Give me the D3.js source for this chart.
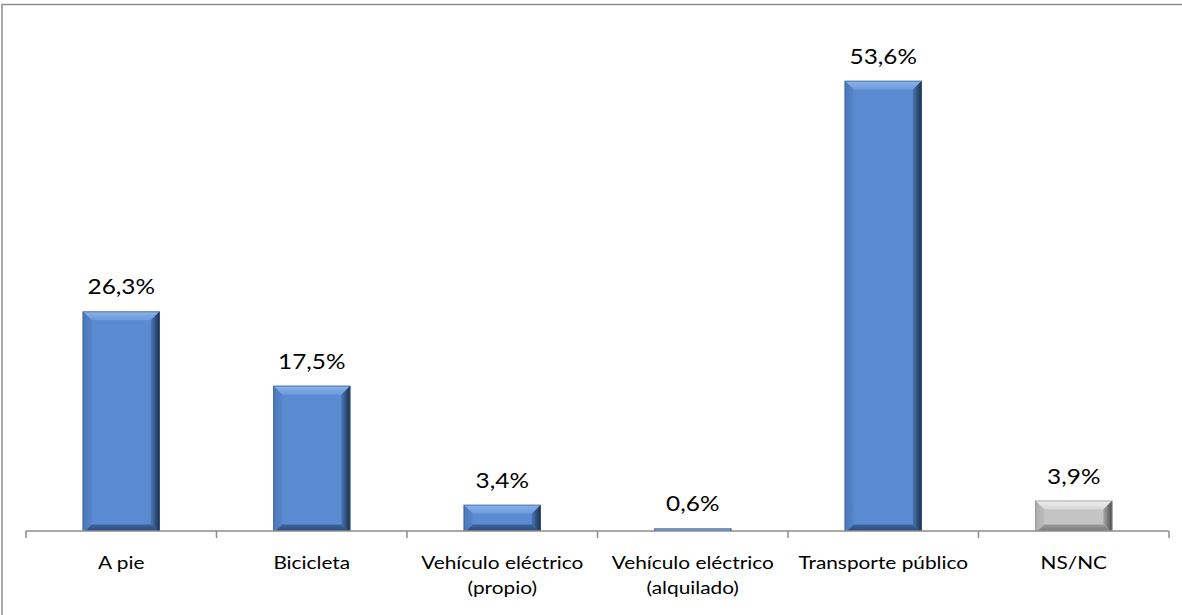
<!DOCTYPE html>
<html><head><meta charset="utf-8">
<script src="https://cdn.jsdelivr.net/npm/d3@7"></script>
<style>html,body{margin:0;padding:0;background:#fff;overflow:hidden}</style>
</head><body><svg id="c" width="1182" height="615"></svg>
<script>
const categories = [["A pie"],["Bicicleta"],["Vehículo eléctrico","(propio)"],["Vehículo eléctrico","(alquilado)"],["Transporte público"],["NS/NC"]];
const values = [26.3, 17.5, 3.4, 0.6, 53.6, 3.9];
const labels = ["26,3%","17,5%","3,4%","0,6%","53,6%","3,9%"];
const kinds = ["blue","blue","blue","blue","blue","gray"];

const svg = d3.select("#c");
const FONT = "Lato, 'Open Sans', sans-serif";
svg.append("rect").attr("x",2).attr("y",4.5).attr("width",1300).attr("height",700)
  .attr("fill","#fff").attr("stroke","#8c8c8c").attr("stroke-width",1.5);

const keys = categories.map((c,i)=>String(i));
const x = d3.scaleBand().domain(keys).range([26,1169]).padding(0);
const y = d3.scaleLinear().domain([0,60]).range([533.5, 533.5-60*8.446]);
const axisY = 531;

const defs = svg.append("defs");
defs.append("clipPath").attr("id","clip").append("rect").attr("x",0).attr("y",0).attr("width",1182).attr("height",axisY);
const pal = {
  blue:{base:"#5a8acf", top:["#8cb4ea","#6a98da"], left:["#4a78b9","#5584c9"], right:["#1a2d47","#4a76b4"], bottom:["#3a629c","#27456f"]},
  gray:{base:"#c4c4c4", top:["#f0f0f0","#d6d6d6"], left:["#adadad","#bcbcbc"], right:["#4a4a4a","#a8a8a8"], bottom:["#9a9a9a","#707070"]}
};
function grad(id,c,x1,y1,x2,y2){
  const g=defs.append("linearGradient").attr("id",id).attr("x1",x1).attr("y1",y1).attr("x2",x2).attr("y2",y2);
  g.append("stop").attr("offset","0%").attr("stop-color",c[0]);
  g.append("stop").attr("offset","100%").attr("stop-color",c[1]);
}
Object.entries(pal).forEach(([k,p])=>{
  grad(k+"-top",p.top,0,0,0,1);
  grad(k+"-left",p.left,0,0,1,0);
  grad(k+"-right",p.right,1,0,0,0);
  grad(k+"-bottom",p.bottom,0,0,0,1);
});

const SX = 1.16;
const bars = svg.append("g").attr("clip-path","url(#clip)");
const bwF = 0.405;
values.forEach((v,i)=>{
  const bw = x.bandwidth()*bwF;
  const x0 = x(keys[i]) + (x.bandwidth()-bw)/2, x1 = x0+bw;
  const y0 = y(v), y1 = y(0);
  const h = y1-y0;
  const k = kinds[i], p = pal[k];
  const b = Math.min(9, h/2.5);
  const g = bars.append("g");
  g.append("rect").attr("x",x0).attr("y",y0).attr("width",bw).attr("height",h).attr("fill",p.base);
  if (h > 4) {
    g.append("polygon").attr("points",`${x0},${y0} ${x1},${y0} ${x1-b},${y0+b} ${x0+b},${y0+b}`).attr("fill",`url(#${k}-top)`);
    g.append("polygon").attr("points",`${x0},${y0} ${x0+b},${y0+b} ${x0+b},${y1-b} ${x0},${y1}`).attr("fill",`url(#${k}-left)`);
    g.append("polygon").attr("points",`${x1},${y0} ${x1},${y1} ${x1-b},${y1-b} ${x1-b},${y0+b}`).attr("fill",`url(#${k}-right)`);
    g.append("polygon").attr("points",`${x0},${y1} ${x0+b},${y1-b} ${x1-b},${y1-b} ${x1},${y1}`).attr("fill",`url(#${k}-bottom)`);
    g.append("rect").attr("x",x0+0.5).attr("y",y0+0.5).attr("width",bw-1).attr("height",h-1).attr("fill","none").attr("stroke",k==="blue"?"#3d5f8e":"#8a8a8a").attr("stroke-width",1).attr("stroke-opacity",0.6);
  } else {
    g.select("rect").attr("fill","#5b7eae");
  }
  svg.append("text").attr("transform",`translate(${(x0+x1)/2},${y0-17}) scale(${SX},1)`).attr("text-anchor","middle")
    .attr("font-family",FONT).attr("font-size",21).attr("fill","#000").text(labels[i]);
});

// axis
const ax = svg.append("g");
ax.append("line").attr("x1",26).attr("x2",1169).attr("y1",axisY).attr("y2",axisY).attr("stroke","#8c8c8c").attr("stroke-width",1.5);
const ticks = keys.map(k=>x(k)).concat([x.range()[1]]);
ax.selectAll("line.t").data(ticks).join("line").attr("class","t")
  .attr("x1",d=>d).attr("x2",d=>d).attr("y1",axisY).attr("y2",axisY+7).attr("stroke","#8c8c8c").attr("stroke-width",1.5);
categories.forEach((lines,i)=>{
  const cx = x(keys[i])+x.bandwidth()/2;
  const t = svg.append("text").attr("transform",`translate(${cx},569) scale(${SX+0.03},1)`).attr("text-anchor","middle")
    .attr("font-family",FONT).attr("font-size",17.5).attr("fill","#000");
  lines.forEach((s,j)=>t.append("tspan").attr("x",0).attr("y",j*25).text(s));
});
</script></body></html>
